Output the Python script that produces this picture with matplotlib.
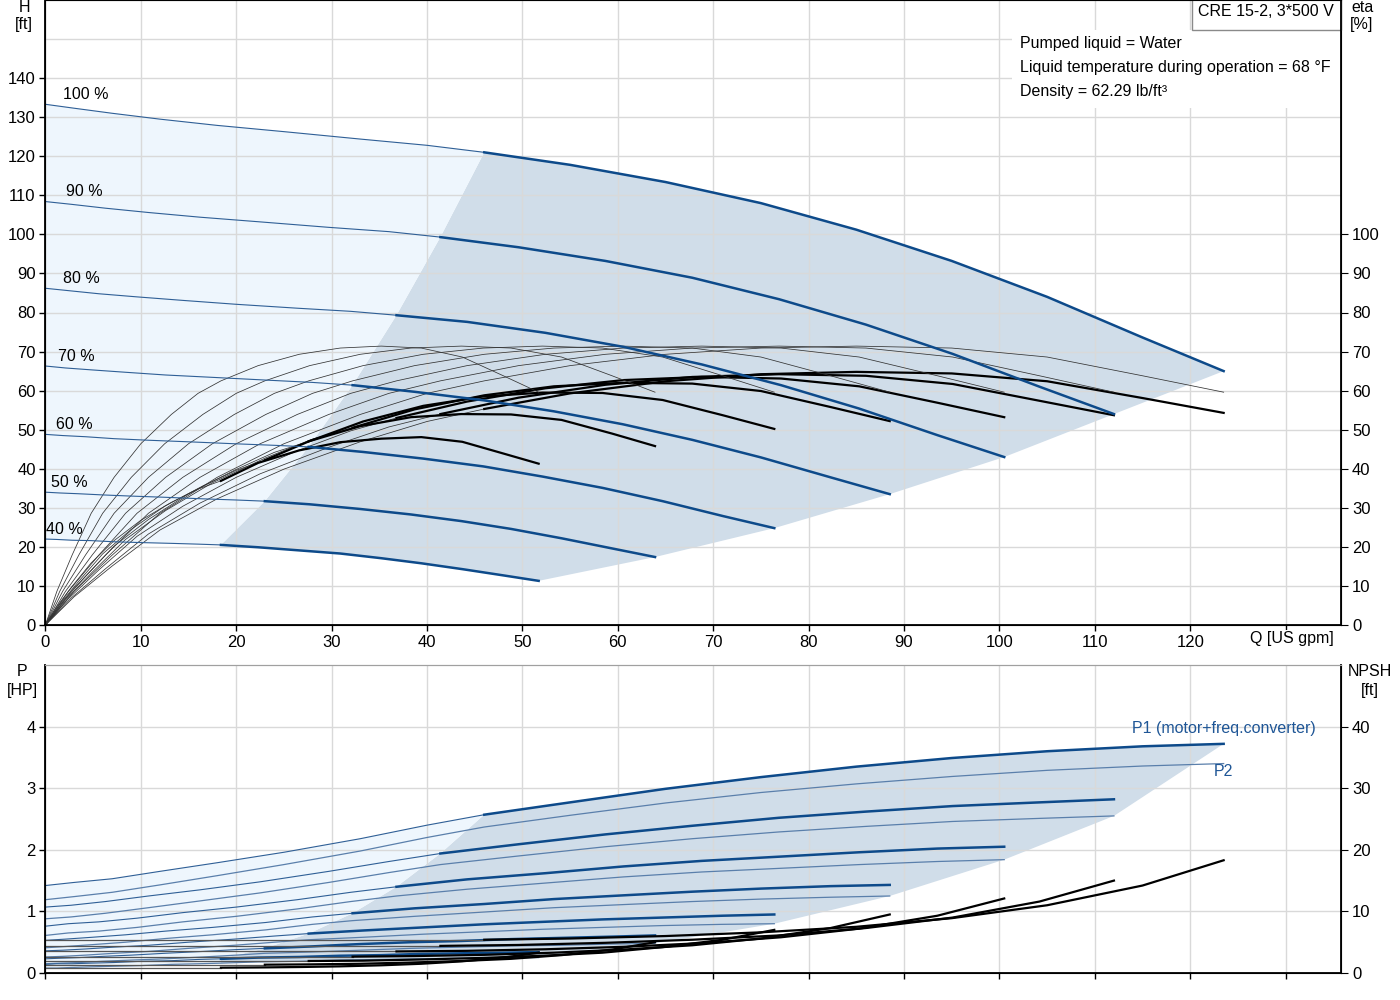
import matplotlib.pyplot as plt
from matplotlib.patches import Polygon, Rectangle

plt.rcParams["font.family"] = ["Liberation Sans", "DejaVu Sans"]
plt.rcParams["font.size"] = 12

speed_labels = ["100 %", "90 %", "80 %", "70 %", "60 %", "50 %", "40 %"]

# flow points per speed [US gpm]; index 8 = minimum flow (start of thick part)
flow = [
    [0, 3, 7, 12, 18, 25, 33, 40, 46, 55, 65, 75, 85, 95, 105, 115, 123.5],
    [0, 2.7, 6.3, 10.8, 16.2, 22.5, 29.7, 36, 41.4, 49.6, 58.7, 67.8, 76.9, 86.0, 95.1, 104.2, 112.0],
    [0, 2.4, 5.6, 9.6, 14.4, 20, 26.4, 32, 36.8, 44.2, 52.4, 60.6, 68.8, 77.1, 85.3, 93.5, 100.5],
    [0, 2.1, 4.9, 8.4, 12.6, 17.5, 23.1, 28, 32.2, 38.7, 46.0, 53.3, 60.5, 67.8, 75.0, 82.3, 88.5],
    [0, 1.8, 4.2, 7.2, 10.8, 15, 19.8, 24, 27.6, 33.3, 39.6, 45.9, 52.1, 58.4, 64.7, 71.0, 76.4],
    [0, 1.5, 3.5, 6, 9, 12.5, 16.5, 20, 23, 27.7, 33.0, 38.3, 43.6, 48.8, 54.1, 59.4, 63.9],
    [0, 1.2, 2.8, 4.8, 7.2, 10, 13.2, 16, 18.4, 22.3, 26.6, 30.9, 35.2, 39.4, 43.7, 48.0, 51.7],
]

# head [ft]
head = [
    [133.3, 132.3, 131.0, 129.5, 127.9, 126.3, 124.4, 122.8, 121.0, 117.8, 113.4, 108.0, 101.2, 93.2, 84.0, 73.6, 65.0],
    [108.4, 107.7, 106.7, 105.6, 104.4, 103.2, 101.8, 100.7, 99.3, 96.7, 93.2, 88.9, 83.4, 76.9, 69.4, 61.0, 54.0],
    [86.2, 85.6, 84.8, 84.0, 83.1, 82.1, 81.1, 80.3, 79.3, 77.6, 74.8, 71.2, 66.7, 61.4, 55.4, 48.6, 43.0],
    [66.3, 65.8, 65.3, 64.7, 64.0, 63.4, 62.7, 62.1, 61.4, 59.7, 57.5, 54.7, 51.4, 47.4, 42.9, 37.8, 33.5],
    [48.8, 48.5, 48.2, 47.7, 47.3, 46.9, 46.4, 46.0, 45.6, 44.3, 42.6, 40.6, 38.0, 35.1, 31.7, 27.9, 24.8],
    [34.0, 33.8, 33.6, 33.3, 33.0, 32.7, 32.3, 32.0, 31.7, 30.9, 29.7, 28.3, 26.6, 24.6, 22.2, 19.6, 17.4],
    [22.0, 21.9, 21.7, 21.6, 21.3, 21.1, 20.9, 20.7, 20.5, 19.9, 19.1, 18.3, 17.1, 15.8, 14.3, 12.7, 11.3],
]

# pump efficiency [%], same at corresponding points of every speed
eta_pump = [0, 8.6, 17.9, 28.6, 37.8, 46.4, 53.9, 59.3, 62.5, 66.4, 69.3, 70.9, 71.4, 70.9, 68.6, 63.8, 59.6]

# total efficiency (pump + motor + converter) [%]
eta_total = [
    [0, 7.2, 15.1, 24.3, 32.3, 39.9, 46.9, 52.1, 55.3, 59.3, 62.4, 64.2, 64.8, 64.4, 62.4, 58.1, 54.3],
    [0, 6.9, 14.4, 23.3, 31.2, 38.7, 45.5, 50.7, 54.0, 58.2, 61.5, 63.5, 64.2, 63.8, 61.7, 57.4, 53.7],
    [0, 6.7, 14.1, 22.7, 30.4, 37.8, 44.6, 49.7, 53.0, 57.2, 60.6, 62.7, 63.5, 63.1, 61.1, 56.9, 53.2],
    [0, 6.4, 13.5, 21.9, 29.3, 36.4, 42.8, 47.6, 50.5, 55.2, 58.8, 61.1, 62.0, 61.8, 59.9, 55.8, 52.2],
    [0, 5.9, 12.4, 20.2, 27.0, 33.6, 39.6, 44.2, 47.0, 52.1, 56.1, 58.5, 59.5, 59.4, 57.6, 53.7, 50.2],
    [0, 5.3, 11.2, 18.2, 24.5, 30.4, 35.6, 39.6, 42.2, 47.1, 50.9, 53.2, 54.0, 53.9, 52.5, 49.0, 45.8],
    [0, 4.7, 9.9, 15.9, 21.6, 26.8, 31.4, 34.8, 36.9, 41.5, 44.7, 46.8, 47.7, 48.1, 46.9, 43.9, 41.3],
]

# P1 (motor + freq. converter) [HP]
p1 = [
    [1.42, 1.47, 1.53, 1.65, 1.79, 1.96, 2.18, 2.40, 2.57, 2.77, 2.99, 3.18, 3.35, 3.49, 3.60, 3.68, 3.72],
    [1.07, 1.10, 1.16, 1.25, 1.35, 1.48, 1.65, 1.81, 1.94, 2.09, 2.25, 2.39, 2.52, 2.62, 2.71, 2.77, 2.82],
    [0.76, 0.80, 0.83, 0.89, 0.98, 1.07, 1.19, 1.31, 1.40, 1.52, 1.62, 1.73, 1.82, 1.89, 1.96, 2.02, 2.05],
    [0.53, 0.55, 0.58, 0.62, 0.68, 0.74, 0.82, 0.91, 0.97, 1.05, 1.12, 1.20, 1.26, 1.32, 1.37, 1.41, 1.43],
    [0.36, 0.37, 0.39, 0.42, 0.45, 0.50, 0.55, 0.60, 0.64, 0.69, 0.74, 0.79, 0.83, 0.87, 0.90, 0.93, 0.95],
    [0.23, 0.24, 0.25, 0.27, 0.29, 0.32, 0.35, 0.38, 0.40, 0.43, 0.47, 0.50, 0.52, 0.55, 0.57, 0.59, 0.61],
    [0.14, 0.15, 0.15, 0.16, 0.17, 0.19, 0.20, 0.22, 0.23, 0.25, 0.26, 0.28, 0.29, 0.31, 0.32, 0.33, 0.34],
]

# P2 (shaft power) [HP]
p2 = [
    [1.19, 1.24, 1.31, 1.43, 1.58, 1.76, 1.98, 2.20, 2.37, 2.56, 2.76, 2.93, 3.07, 3.19, 3.29, 3.36, 3.40],
    [0.88, 0.91, 0.97, 1.06, 1.17, 1.30, 1.47, 1.63, 1.76, 1.90, 2.05, 2.18, 2.29, 2.38, 2.46, 2.51, 2.55],
    [0.61, 0.65, 0.68, 0.74, 0.83, 0.92, 1.04, 1.16, 1.25, 1.36, 1.46, 1.56, 1.64, 1.70, 1.76, 1.81, 1.84],
    [0.41, 0.43, 0.46, 0.50, 0.56, 0.62, 0.70, 0.79, 0.85, 0.92, 0.99, 1.06, 1.11, 1.16, 1.20, 1.23, 1.25],
    [0.26, 0.27, 0.29, 0.32, 0.35, 0.40, 0.45, 0.50, 0.54, 0.58, 0.63, 0.67, 0.71, 0.74, 0.77, 0.79, 0.80],
    [0.15, 0.16, 0.17, 0.19, 0.21, 0.23, 0.26, 0.29, 0.32, 0.34, 0.37, 0.40, 0.42, 0.44, 0.45, 0.47, 0.48],
    [0.08, 0.08, 0.09, 0.10, 0.11, 0.12, 0.14, 0.15, 0.16, 0.18, 0.19, 0.21, 0.22, 0.23, 0.24, 0.25, 0.25],
]

# NPSH [ft]
npsh = [
    [5.4, 5.4, 5.4, 5.4, 5.4, 5.4, 5.4, 5.4, 5.4, 5.6, 6.0, 6.6, 7.5, 8.9, 11.0, 14.2, 18.3],
    [4.4, 4.4, 4.4, 4.4, 4.4, 4.4, 4.4, 4.4, 4.4, 4.55, 4.9, 5.4, 6.1, 7.3, 9.0, 11.6, 15.0],
    [3.5, 3.5, 3.5, 3.5, 3.5, 3.5, 3.5, 3.5, 3.5, 3.6, 3.85, 4.25, 4.85, 5.8, 7.2, 9.3, 12.1],
    [2.65, 2.65, 2.65, 2.65, 2.65, 2.65, 2.65, 2.65, 2.65, 2.75, 2.95, 3.3, 3.8, 4.5, 5.6, 7.3, 9.5],
    [1.95, 1.95, 1.95, 1.95, 1.95, 1.95, 1.95, 1.95, 1.95, 2.0, 2.2, 2.45, 2.8, 3.3, 4.2, 5.4, 7.0],
    [1.35, 1.35, 1.35, 1.35, 1.35, 1.35, 1.35, 1.35, 1.35, 1.4, 1.5, 1.7, 1.95, 2.3, 2.9, 3.8, 5.0],
    [0.86, 0.86, 0.86, 0.86, 0.86, 0.86, 0.86, 0.86, 0.86, 0.9, 0.97, 1.08, 1.25, 1.5, 1.9, 2.5, 3.3],
]

info_lines = ["Pumped liquid = Water",
              "Liquid temperature during operation = 68 °F",
              "Density = 62.29 lb/ft³"]
title_box = "CRE 15-2, 3*500 V"

IMIN = 8
BLUE = "#0d4a8a"
BLUE_THIN = "#2f5f96"
P2_COL = "#5a7fab"
LIGHT = "#eef6fd"
DARK = "#d0dde9"
GRID = "#d9d9d9"
XMAX = 135.8

fig = plt.figure(figsize=(14, 10), dpi=100)
ax1 = fig.add_axes([45.4 / 1400, 0.375, 1295.6 / 1400, 0.625])
ax2 = fig.add_axes([45.4 / 1400, 0.027, 1295.6 / 1400, 0.308])
ax1r = ax1.twinx()
ax2r = ax2.twinx()

n = len(flow)

# ---------- shaded areas, upper ----------
dark = list(zip(flow[0][IMIN:], head[0][IMIN:]))
dark += [(flow[k][-1], head[k][-1]) for k in range(1, n)]
dark += list(zip(flow[-1][IMIN:-1], head[-1][IMIN:-1]))[::-1]
dark += [(flow[k][IMIN], head[k][IMIN]) for k in range(n - 2, 0, -1)]
ax1.add_patch(Polygon(dark, closed=True, fc=DARK, ec="none", zorder=0.2))

light = list(zip(flow[0][:IMIN + 1], head[0][:IMIN + 1]))
light += [(flow[k][IMIN], head[k][IMIN]) for k in range(1, n)]
light += list(zip(flow[-1][:IMIN], head[-1][:IMIN]))[::-1]
ax1.add_patch(Polygon(light, closed=True, fc=LIGHT, ec="none", zorder=0.2))

# ---------- shaded areas, lower ----------
dark = list(zip(flow[0][IMIN:], p1[0][IMIN:]))
dark += [(flow[k][-1], p2[k][-1]) for k in range(1, n)]
dark += list(zip(flow[-1][IMIN:-1], p2[-1][IMIN:-1]))[::-1]
dark += [(flow[k][IMIN], p1[k][IMIN]) for k in range(n - 1, 0, -1)]
ax2.add_patch(Polygon(dark, closed=True, fc=DARK, ec="none", zorder=0.2))

light = list(zip(flow[0][:IMIN + 1], p1[0][:IMIN + 1]))
light += [(flow[k][IMIN], p1[k][IMIN]) for k in range(1, n)]
light += [(flow[-1][IMIN], p2[-1][IMIN])]
light += list(zip(flow[-1][:IMIN], p2[-1][:IMIN]))[::-1]
ax2.add_patch(Polygon(light, closed=True, fc=LIGHT, ec="none", zorder=0.2))

# ---------- curves ----------
label_dx = [1.8, 2.2, 1.8, 1.3, 1.1, 0.6, 0.1]
for k in range(n):
    q = flow[k]
    ax1.plot(q[:IMIN + 1], head[k][:IMIN + 1], color=BLUE_THIN, lw=0.8, zorder=3)
    ax1.plot(q[IMIN:], head[k][IMIN:], color=BLUE, lw=1.8, zorder=3)
    ax1.plot(q, eta_pump, color="#333333", lw=0.55, zorder=2)
    ax1.plot(q[:IMIN + 1], eta_total[k][:IMIN + 1], color="#333333", lw=0.55, zorder=2)
    ax1.plot(q[IMIN:], eta_total[k][IMIN:], color="black", lw=1.6, zorder=2)
    ax1.text(label_dx[k], head[k][0] + 0.6, speed_labels[k], ha="left", va="bottom",
             fontsize=11.5, zorder=5)

    ax2.plot(q, p2[k], color=P2_COL, lw=0.9, zorder=3)
    ax2.plot(q[:IMIN + 1], p1[k][:IMIN + 1], color=BLUE_THIN, lw=0.8, zorder=3)
    ax2.plot(q[IMIN:], p1[k][IMIN:], color=BLUE, lw=1.8, zorder=3)
    ax2r.plot(q[:IMIN + 1], npsh[k][:IMIN + 1], color="#555555", lw=0.9, zorder=2)
    ax2r.plot(q[IMIN:], npsh[k][IMIN:], color="black", lw=1.6, zorder=2)

# ---------- axes styling ----------
xt = list(range(0, 140, 10))
for ax in (ax1, ax2):
    ax.set_xlim(0, XMAX)
    ax.set_xticks(xt)
    ax.set_axisbelow(True)
    ax.grid(True, color=GRID, lw=1.0)
    ax.tick_params(direction="out", length=4, width=1, pad=3, labelsize=12)
    ax.spines["top"].set_color("#a0a0a0")
    for s in ("left", "bottom"):
        ax.spines[s].set_linewidth(1.3)

ax1.set_ylim(0, 160)
ax1.set_yticks(range(0, 150, 10))
ax1.axhline(150, color=GRID, lw=1.0, zorder=0.5)
ax1.set_xticklabels([str(v) if v <= 120 else "" for v in xt])

ax1r.set_ylim(0, 160)
ax1r.set_yticks(range(0, 110, 10))
ax1r.tick_params(direction="out", length=5, labelsize=12, pad=3)
ax1r.spines["right"].set_linewidth(1.3)

ax2.set_ylim(0, 5)
ax2.set_yticks([0, 1, 2, 3, 4])
ax2.set_xticklabels([])
ax2r.set_ylim(0, 50)
ax2r.set_yticks([0, 10, 20, 30, 40])
ax2r.tick_params(direction="out", length=5, labelsize=12, pad=3)
ax2r.spines["right"].set_linewidth(1.3)
ax2r.spines["top"].set_color("#a0a0a0")

# ---------- annotations ----------
ax1.add_patch(Rectangle((0.746, 0.828), 0.254, 0.124, transform=ax1.transAxes,
                        fc="white", ec="none", zorder=4))
for i, line in enumerate(info_lines):
    ax1.text(0.752, 0.930 - i * 0.0385, line, transform=ax1.transAxes,
             ha="left", va="center", fontsize=11.5, zorder=5)

ax1.add_patch(Rectangle((0.885, 0.952), 0.115, 0.052, transform=ax1.transAxes,
                        fc="white", ec="#8a8a8a", lw=1.0, zorder=4, clip_on=False))
ax1.text(0.942, 0.981, title_box, transform=ax1.transAxes, ha="center", va="center",
         fontsize=11.5, zorder=5)

ax2.text(113.9, 3.97, "P1 (motor+freq.converter)", color="#1f5696", fontsize=11.5,
         ha="left", va="center", zorder=5)
ax2.text(122.5, 3.27, "P2", color="#1f5696", fontsize=11.5, ha="left", va="center", zorder=5)

fig.text(24 / 1400, 1 - 8 / 1000, "H", ha="center", va="center", fontsize=11.5)
fig.text(24 / 1400, 1 - 25 / 1000, "[ft]", ha="center", va="center", fontsize=11.5)
fig.text(1362 / 1400, 1 - 8 / 1000, "eta", ha="center", va="center", fontsize=11.5)
fig.text(1362 / 1400, 1 - 25 / 1000, "[%]", ha="center", va="center", fontsize=11.5)
fig.text(22 / 1400, 1 - 672 / 1000, "P", ha="center", va="center", fontsize=11.5)
fig.text(22 / 1400, 1 - 690 / 1000, "[HP]", ha="center", va="center", fontsize=11.5)
fig.text(1370 / 1400, 1 - 672 / 1000, "NPSH", ha="center", va="center", fontsize=11.5)
fig.text(1370 / 1400, 1 - 690 / 1000, "[ft]", ha="center", va="center", fontsize=11.5)
fig.text(1292 / 1400, 1 - 639 / 1000, "Q [US gpm]", ha="center", va="center", fontsize=11.5,
         bbox=dict(fc="white", ec="none", pad=1.0), zorder=6)

fig.savefig("out.png", dpi=100, facecolor="white")
